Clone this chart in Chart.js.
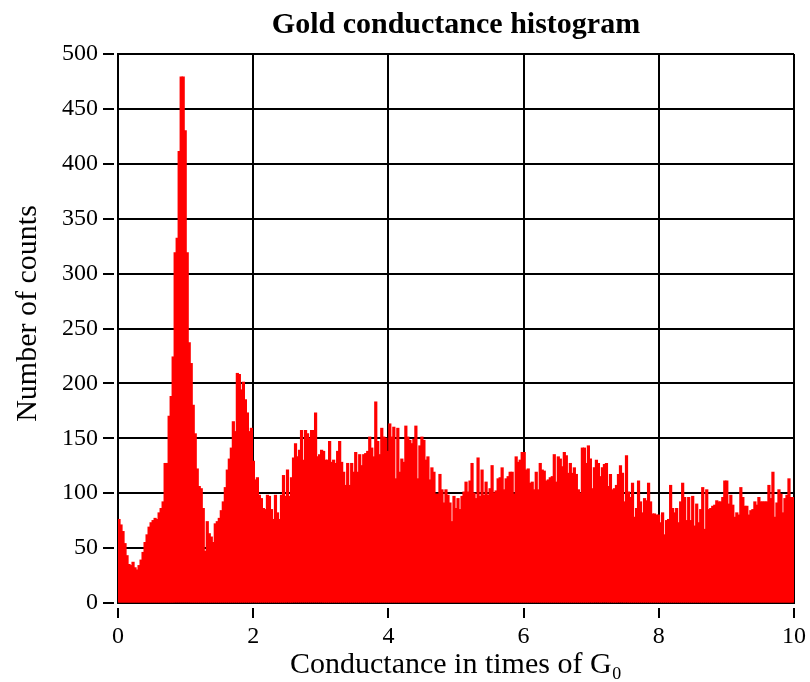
<!DOCTYPE html>
<html lang="en">
<head>
  <meta charset="UTF-8">
  <title>Gold conductance histogram</title>
  <script src="https://cdn.jsdelivr.net/npm/chart.js"></script>
  <style>
    body { margin: 0; background: #fff; }
    canvas { display: block; }
  </style>
</head>
<body>
  <canvas id="histChart" width="810" height="682"></canvas>
  <script>
    // Histogram counts (0 to 10 G0)
    const counts = [
      76, 71, 65, 54, 43, 35, 34, 37, 32, 30, 34, 39, 46, 55, 62, 69, 73, 75, 77, 76,
      82, 86, 92, 127, 127, 170, 188, 224, 319, 332, 411, 479, 479, 430, 319, 237, 218, 180, 154, 122,
      106, 104, 86, 47, 74, 63, 60, 55, 72, 74, 77, 84, 92, 105, 121,
      131, 141, 165, 156, 209, 208, 194, 201, 185, 173, 156, 159, 129, 112, 114, 98, 95, 86, 85, 98,
      97, 85, 76, 98, 82, 76, 98, 116, 97, 121, 97, 114, 132, 145, 133, 139, 157, 130, 157, 154,
      150, 157, 157, 173, 133, 135, 139, 138, 130, 130,
      147, 128, 130, 127, 138, 147, 128, 119, 107, 127, 107, 127, 119, 137, 119, 135, 125, 135, 136, 138,
      151, 141, 133, 183, 147, 135, 159, 151, 150, 138, 163, 151, 160, 113, 159, 119, 131, 128, 161, 151,
      148, 145, 149, 161, 113, 143, 151, 148, 130,
      133, 112, 123, 119, 99, 99, 117, 103, 91, 103, 98, 91, 74, 97, 86, 95, 85, 97, 101, 110,
      101, 111, 127, 100, 95, 132, 97, 121, 98, 110, 98, 104, 125, 100, 102, 113, 114, 123, 103, 113,
      115, 119, 119, 99, 133, 128, 130, 137, 137,
      121, 122, 109, 110, 103, 119, 103, 127, 121, 120, 111, 112, 114, 115, 135, 110, 133, 131, 124, 137,
      134, 118, 127, 118, 123, 117, 103, 100, 141, 141, 127, 143, 131, 104, 123, 130, 127, 115, 123, 126,
      127, 106, 117, 103, 104, 107, 117, 125, 118,
      92, 134, 101, 96, 109, 78, 86, 111, 92, 82, 95, 93, 109, 92, 81, 81, 80, 80, 73, 82,
      62, 75, 76, 107, 86, 82, 86, 73, 92, 109, 96, 75, 96, 75, 97, 70, 90, 73, 85, 105,
      67, 103, 85, 86, 88, 89, 93, 92, 92,
      96, 111, 111, 90, 98, 89, 78, 82, 80, 105, 96, 88, 88, 80, 84, 85, 92, 89, 96, 92,
      92, 92, 92, 107, 95, 119, 78, 91, 103, 99, 82, 95, 98, 113, 96, 96
    ];
    const xMin = 0;
    const xMax = 10;
    const xTicks = [0, 2, 4, 6, 8, 10];
    const yTicks = [0, 50, 100, 150, 200, 250, 300, 350, 400, 450, 500];

    const serif = '"Liberation Serif", "DejaVu Serif", serif';
    const binWidth = (xMax - xMin) / counts.length;

    // one bar per bin, placed at the bin centre on the linear x scale
    const bins = counts.map((c, i) => ({ x: xMin + (i + 0.5) * binWidth, y: c }));

    const gridOpts = {
      color: '#000',
      lineWidth: 2,
      offset: false,
      tickColor: '#000',
      tickWidth: 2,
      tickLength: 15,
      tickBorderDash: [11, 4]
    };

    const ctx = document.getElementById('histChart').getContext('2d');
    new Chart(ctx, {
      type: 'bar',
      data: {
        datasets: [{
          data: bins,
          xAxisID: 'x',
          yAxisID: 'y',
          backgroundColor: '#ff0000',
          borderWidth: 0,
          barPercentage: 1,
          categoryPercentage: 1,
          inflateAmount: 0.6
        }]
      },
      options: {
        responsive: false,
        animation: false,
        layout: { padding: { top: 0, right: 15, bottom: 0, left: 0 } },
        plugins: {
          legend: { display: false },
          tooltip: { enabled: false }
        },
        scales: {
          x: {
            type: 'linear',
            min: xMin,
            max: xMax,
            offset: false,
            afterBuildTicks: (s) => { s.ticks = xTicks.map(v => ({ value: v })); },
            afterFit: (s) => { s.height = 79; },
            grid: Object.assign({}, gridOpts, { tickBorderDashOffset: 11 }),
            border: { display: true, color: '#000', width: 2 },
            ticks: {
              color: '#000',
              padding: 4,
              maxRotation: 0,
              font: { family: serif, size: 24 }
            },
            title: {
              display: true,
              text: 'Conductance in times of G\u2080',
              color: '#000',
              font: { family: serif, size: 30, lineHeight: 1 },
              padding: { top: 2, bottom: 2 }
            }
          },
          // empty top axis only carries the chart title, centred over the plot
          top: {
            type: 'linear',
            position: 'top',
            min: xMin,
            max: xMax,
            offset: false,
            afterFit: (s) => { s.height = 54; },
            grid: { display: false, drawTicks: false },
            border: { display: false },
            ticks: { display: false },
            title: {
              display: true,
              text: 'Gold conductance histogram',
              color: '#000',
              font: { family: serif, size: 30, weight: 'bold', lineHeight: 1.2 },
              padding: { top: 7, bottom: 7 }
            }
          },
          y: {
            min: 0,
            max: 500,
            afterBuildTicks: (s) => { s.ticks = yTicks.map(v => ({ value: v })); },
            afterFit: (s) => { s.width = 118; },
            grid: gridOpts,
            border: { display: true, color: '#000', width: 2 },
            ticks: {
              color: '#000',
              padding: 5,
              font: { family: serif, size: 24 }
            },
            title: {
              display: true,
              text: '\u00a0\u00a0\u00a0\u00a0Number of counts',
              color: '#000',
              font: { family: serif, size: 30, lineHeight: 1 },
              padding: { top: 13, bottom: 13 }
            }
          }
        }
      }
    });
  </script>
</body>
</html>
